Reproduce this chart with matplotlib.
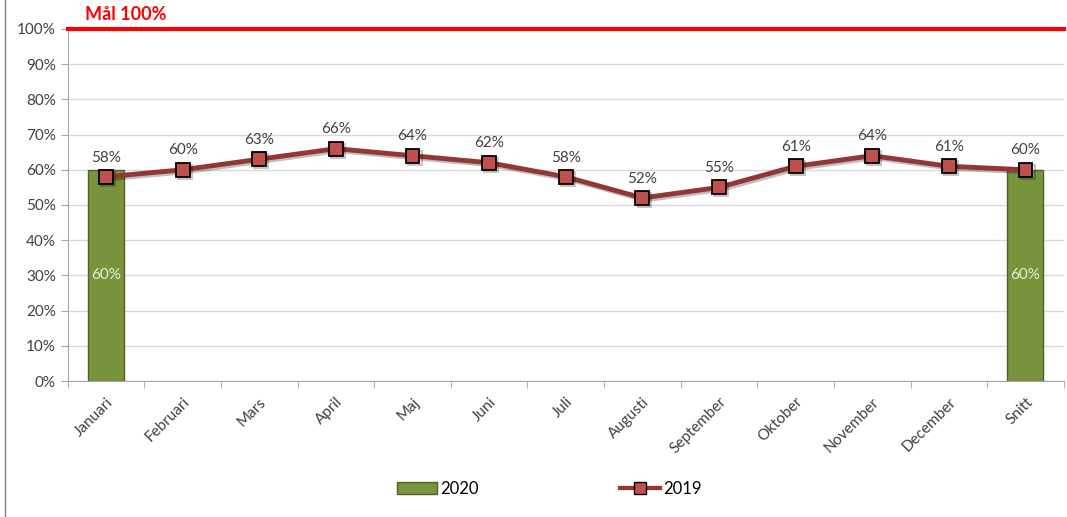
import matplotlib
matplotlib.use("Agg")
import matplotlib.pyplot as plt
import matplotlib.patheffects as pe
from matplotlib.lines import Line2D
from matplotlib.patches import Patch
import numpy as np

months = ["Januari", "Februari", "Mars", "April", "Maj", "Juni", "Juli",
          "Augusti", "September", "Oktober", "November", "December", "Snitt"]
vals_2019 = [58, 60, 63, 66, 64, 62, 58, 52, 55, 61, 64, 61, 60]
vals_2020 = [60, None, None, None, None, None, None, None, None, None, None, None, 60]
goal = 100

plt.rcParams['font.family'] = ['Lato', 'DejaVu Sans']

fig = plt.figure(figsize=(10.67, 5.17), dpi=100)
ax = fig.add_axes([0.0635, 0.263, 0.9335, 0.681])

x = np.arange(len(months))

# bars 2020
bx = [i for i, v in enumerate(vals_2020) if v is not None]
bv = [v for v in vals_2020 if v is not None]
ax.bar(bx, bv, width=0.47, color="#77933C", edgecolor="#4F6228", linewidth=1, zorder=2)
for i, v in zip(bx, bv):
    ax.text(i, 30, f"{v}%", ha="center", va="center", color="#EAF1DD", fontsize=11, zorder=5)

# line 2019
ax.plot(x, vals_2019, color="#943634", linewidth=3.5, marker="s", markersize=10,
        markerfacecolor="#C0504D", markeredgecolor="black", markeredgewidth=1.3, zorder=4,
        path_effects=[pe.SimpleLineShadow(offset=(1.5, -1.5), alpha=0.25), pe.Normal()])
for i, v in enumerate(vals_2019):
    ax.text(i, v + 3.5, f"{v}%", ha="center", va="bottom", color="#404040", fontsize=11, zorder=5)

# goal line
ax.axhline(goal, color="#FF0000", linewidth=3, zorder=3, clip_on=False)
fig.text(0.08, 0.972, f"Mål {goal}%", color="#FF0000", fontsize=13, fontweight="bold",
         ha="left", va="center")

ax.set_xlim(-0.5, len(months) - 0.5)
ax.set_ylim(0, 100)
ax.set_yticks(np.arange(0, 101, 10))
ax.set_yticklabels([f"{t}%" for t in range(0, 101, 10)], fontsize=11, color="#404040")
ax.set_xticks(x)
ax.set_xticklabels(months, rotation=45, ha="right", rotation_mode="anchor", fontsize=11, color="#404040")
ax.set_xticks(np.arange(-0.5, len(months), 1), minor=True)
ax.tick_params(axis="x", which="major", length=0, pad=10)
ax.tick_params(axis="x", which="minor", length=5, color="#A6A6A6")
ax.tick_params(axis="y", length=5, color="#A6A6A6")

ax.grid(axis="y", color="#D9D9D9", linewidth=1, zorder=0)
ax.set_axisbelow(True)
for s in ["top", "right"]:
    ax.spines[s].set_visible(False)
for s in ["left", "bottom"]:
    ax.spines[s].set_color("#A6A6A6")

# frame line on left
fig.add_artist(Line2D([0.005, 0.005], [0, 1], color="#7F7F7F", linewidth=1))

handles = [Patch(facecolor="#77933C", edgecolor="#4F6228", label="2020"),
           Line2D([], [], color="#943634", linewidth=3, marker="s", markersize=9,
                  markerfacecolor="#C0504D", markeredgecolor="black", label="2019")]
fig.legend(handles=handles, loc="center", bbox_to_anchor=(0.515, 0.055), ncol=2,
           frameon=False, fontsize=12, columnspacing=8.5, handlelength=2.4, handletextpad=0.2)

fig.savefig("out.png", dpi=100)
